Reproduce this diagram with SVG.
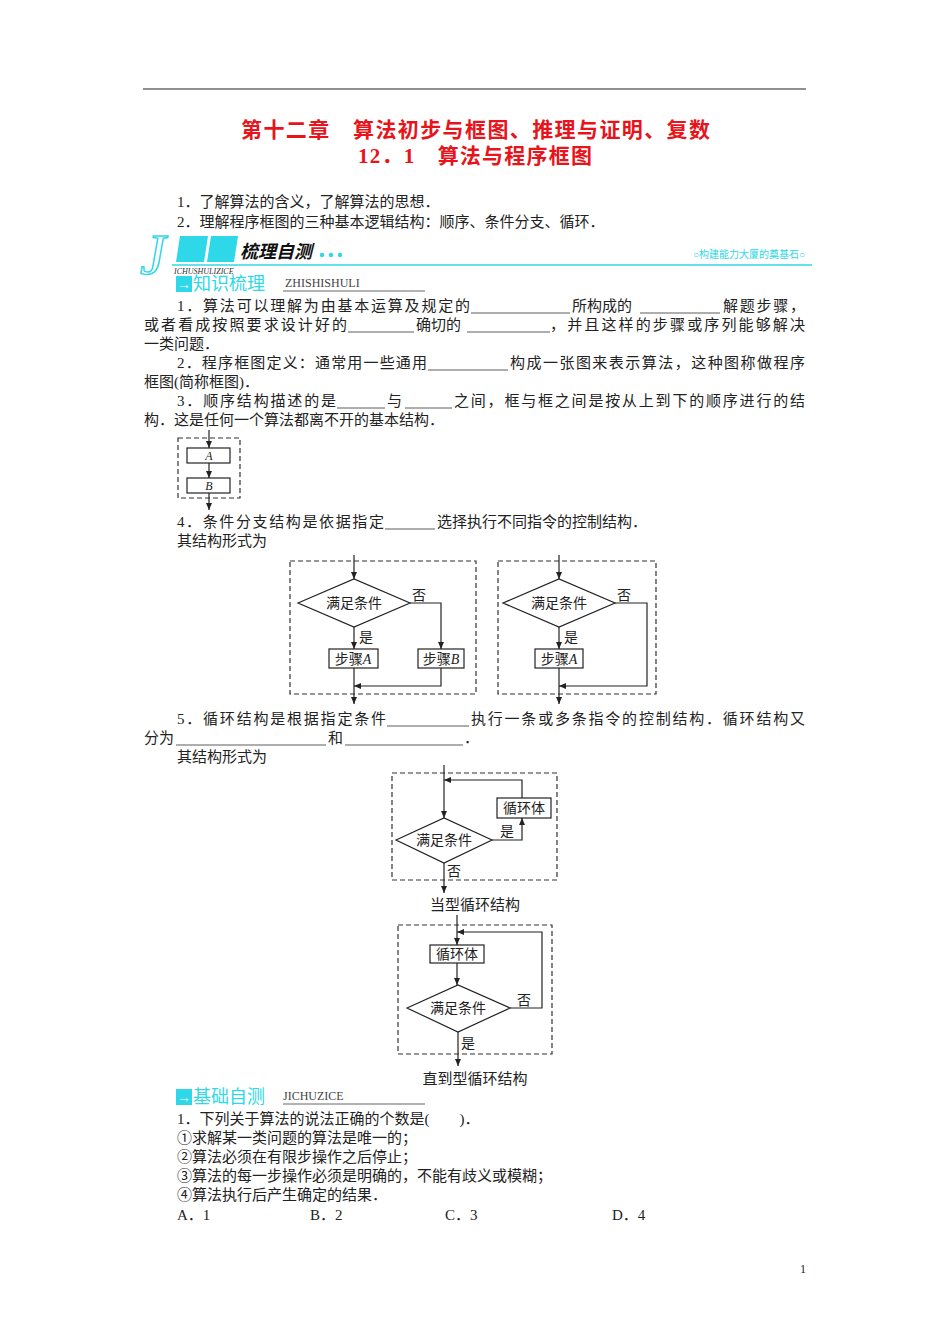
<svg xmlns="http://www.w3.org/2000/svg" width="950" height="1344" viewBox="0 0 950 1344">
<style>
text{font-family:"Liberation Serif","Noto Sans CJK SC",serif;font-size:15px;fill:#222}
.t{font-size:21px;font-weight:bold;fill:#e8141b}
.s{font-size:14px}
.c{text-anchor:middle}
.ln{stroke:#222;stroke-width:1.2;fill:none}
.bl{stroke:#333;stroke-width:0.8}
.dash{stroke:#333;stroke-width:1.2;fill:none;stroke-dasharray:5 3}
.box{stroke:#222;stroke-width:1.2;fill:#fff}
.cy{fill:#2fd8e8}
</style>
<defs><marker id="ar" markerWidth="8" markerHeight="8" refX="7" refY="4" orient="auto" markerUnits="userSpaceOnUse"><path d="M0,1 L7,4 L0,7 Z" fill="#222"/></marker></defs>
<rect width="950" height="1344" fill="#fff"/>
<line x1="143" y1="89" x2="806" y2="89" stroke="#222" stroke-width="1"/>
<text class="t" x="241" y="137" textLength="469">第十二章　算法初步与框图、推理与证明、复数</text>
<text class="t" x="358" y="163" textLength="234">12．1　算法与程序框图</text>
<text x="177" y="207">1．了解算法的含义，了解算法的思想．</text>
<text x="177" y="227">2．理解程序框图的三种基本逻辑结构：顺序、条件分支、循环．</text>
<g id="header1">
<text x="140" y="274" style="font-size:58px;font-style:italic;fill:#fff;stroke:#2fd8e8;stroke-width:1.5">J</text>
<polygon class="cy" points="180,236 208,236 204,262 176,262"/>
<polygon class="cy" points="211,236 238,236 234,262 207,262"/>
<text x="240" y="258" style="font-size:18px;font-weight:bold;font-style:italic;fill:#111">梳理自测</text>
<circle class="cy" cx="322" cy="255" r="2.2"/><circle class="cy" cx="331" cy="255" r="2.2"/><circle class="cy" cx="340" cy="255" r="2.2"/>
<text x="805" y="258" style="font-size:10px;fill:#2fd8e8;text-anchor:end">○构建能力大厦的奠基石○</text>
<line x1="172" y1="265" x2="812" y2="265" stroke="#2fd8e8" stroke-width="1.5"/>
<text x="174" y="274" style="font-size:8px;font-style:italic;fill:#333">ICHUSHULIZICE</text>
<rect class="cy" x="176" y="276" width="16" height="16"/>
<text x="184" y="289" class="c" style="font-size:14px;fill:#fff">→</text>
<text x="193" y="290" style="font-size:18px;fill:#2fd8e8">知识梳理</text>
<text x="285" y="287" style="font-size:12px;fill:#444">ZHISHISHULI</text>
<line x1="283" y1="291" x2="425" y2="291" stroke="#666" stroke-width="1"/>
</g>
<text x="177" y="311" textLength="293">1．算法可以理解为由基本运算及规定的</text><line class="bl" x1="471" y1="313" x2="570" y2="313"/>
<text x="572" y="311">所构成的</text><line class="bl" x1="640" y1="313" x2="720" y2="313"/>
<text x="723" y="311" textLength="82">解题步骤，</text>
<text x="144" y="330" textLength="203">或者看成按照要求设计好的</text><line class="bl" x1="348" y1="332" x2="414" y2="332"/>
<text x="416" y="330">确切的</text><line class="bl" x1="467" y1="332" x2="550" y2="332"/>
<text x="550" y="330" textLength="255">，并且这样的步骤或序列能够解决</text>
<text x="144" y="349">一类问题．</text>
<text x="177" y="368" textLength="250">2．程序框图定义：通常用一些通用</text><line class="bl" x1="428" y1="370" x2="508" y2="370"/>
<text x="510" y="368" textLength="295">构成一张图来表示算法，这种图称做程序</text>
<text x="144" y="387">框图(简称框图)．</text>
<text x="177" y="406" textLength="159">3．顺序结构描述的是</text><line class="bl" x1="337" y1="408" x2="385" y2="408"/>
<text x="387" y="406">与</text><line class="bl" x1="405" y1="408" x2="452" y2="408"/>
<text x="454" y="406" textLength="351">之间，框与框之间是按从上到下的顺序进行的结</text>
<text x="144" y="425">构．这是任何一个算法都离不开的基本结构．</text>
<g id="seq">
<rect class="dash" x="178" y="438" width="62" height="60"/>
<line class="ln" x1="209" y1="430" x2="209" y2="448" marker-end="url(#ar)"/>
<rect class="box" x="187" y="448" width="43" height="15"/>
<text class="c s" x="209" y="460" style="font-style:italic;font-size:12px">A</text>
<line class="ln" x1="209" y1="463" x2="209" y2="478" marker-end="url(#ar)"/>
<rect class="box" x="187" y="478" width="43" height="15"/>
<text class="c s" x="209" y="490" style="font-style:italic;font-size:12px">B</text>
<line class="ln" x1="209" y1="493" x2="209" y2="510" marker-end="url(#ar)"/>
</g>
<text x="177" y="527" textLength="207">4．条件分支结构是依据指定</text><line class="bl" x1="385" y1="529" x2="435" y2="529"/>
<text x="437" y="527">选择执行不同指令的控制结构．</text>
<text x="177" y="546">其结构形式为</text>
<g id="cond1">
<rect class="dash" x="290" y="561" width="186" height="133"/>
<line class="ln" x1="354" y1="555" x2="354" y2="579" marker-end="url(#ar)"/>
<polygon class="box" points="298,603 354,579 410,603 354,627"/>
<text class="c s" x="354" y="608">满足条件</text>
<text x="412" y="600" class="s">否</text>
<polyline class="ln" points="410,603 441,603 441,649" marker-end="url(#ar)"/>
<line class="ln" x1="354" y1="627" x2="354" y2="649" marker-end="url(#ar)"/>
<text x="359" y="642" class="s">是</text>
<rect class="box" x="329" y="649" width="49" height="19"/>
<text class="c s" x="353" y="664">步骤<tspan font-style="italic">A</tspan></text>
<rect class="box" x="418" y="649" width="46" height="19"/>
<text class="c s" x="441" y="664">步骤<tspan font-style="italic">B</tspan></text>
<polyline class="ln" points="441,668 441,686 354,686" marker-end="url(#ar)"/>
<line class="ln" x1="354" y1="668" x2="354" y2="704" marker-end="url(#ar)"/>
</g>
<g id="cond2">
<rect class="dash" x="498" y="561" width="158" height="133"/>
<line class="ln" x1="559" y1="555" x2="559" y2="579" marker-end="url(#ar)"/>
<polygon class="box" points="503,603 559,579 615,603 559,627"/>
<text class="c s" x="559" y="608">满足条件</text>
<text x="617" y="600" class="s">否</text>
<polyline class="ln" points="615,603 647,603 647,686 559,686" marker-end="url(#ar)"/>
<line class="ln" x1="559" y1="627" x2="559" y2="649" marker-end="url(#ar)"/>
<text x="564" y="642" class="s">是</text>
<rect class="box" x="535" y="649" width="48" height="19"/>
<text class="c s" x="559" y="664">步骤<tspan font-style="italic">A</tspan></text>
<line class="ln" x1="559" y1="668" x2="559" y2="704" marker-end="url(#ar)"/>
</g>
<text x="177" y="724" textLength="209">5．循环结构是根据指定条件</text><line class="bl" x1="387" y1="726" x2="469" y2="726"/>
<text x="471" y="724" textLength="334">执行一条或多条指令的控制结构．循环结构又</text>
<text x="144" y="743">分为</text><line class="bl" x1="176" y1="745" x2="326" y2="745"/>
<text x="328" y="743">和</text><line class="bl" x1="345" y1="745" x2="463" y2="745"/>
<text x="464" y="743">．</text>
<text x="177" y="762">其结构形式为</text>
<g id="while">
<rect class="dash" x="392" y="773" width="165" height="107"/>
<line class="ln" x1="444" y1="765" x2="444" y2="818" marker-end="url(#ar)"/>
<polygon class="box" points="396,840 444,818 492,840 444,863"/>
<text class="c s" x="444" y="845">满足条件</text>
<polyline class="ln" points="492,840 522,840 522,818" marker-end="url(#ar)"/>
<text x="500" y="836" class="s">是</text>
<rect class="box" x="497" y="798" width="54" height="20"/>
<text class="c s" x="524" y="813">循环体</text>
<polyline class="ln" points="522,798 522,780 444,780" marker-end="url(#ar)"/>
<line class="ln" x1="444" y1="863" x2="444" y2="893" marker-end="url(#ar)"/>
<text x="447" y="876" class="s">否</text>
</g>
<text class="c" x="475" y="910">当型循环结构</text>
<g id="until">
<rect class="dash" x="398" y="925" width="154" height="129"/>
<line class="ln" x1="457" y1="915" x2="457" y2="945" marker-end="url(#ar)"/>
<rect class="box" x="430" y="945" width="54" height="18"/>
<text class="c s" x="457" y="959">循环体</text>
<line class="ln" x1="457" y1="963" x2="457" y2="985" marker-end="url(#ar)"/>
<polygon class="box" points="407,1008 458,985 510,1008 458,1032"/>
<text class="c s" x="458" y="1013">满足条件</text>
<polyline class="ln" points="510,1008 542,1008 542,932 457,932" marker-end="url(#ar)"/>
<text x="517" y="1005" class="s">否</text>
<line class="ln" x1="458" y1="1032" x2="458" y2="1066" marker-end="url(#ar)"/>
<text x="461" y="1048" class="s">是</text>
</g>
<text class="c" x="475" y="1084">直到型循环结构</text>
<g id="header2">
<rect class="cy" x="176" y="1089" width="16" height="16"/>
<text x="184" y="1102" class="c" style="font-size:14px;fill:#fff">→</text>
<text x="193" y="1103" style="font-size:18px;fill:#2fd8e8">基础自测</text>
<text x="283" y="1100" style="font-size:12px;fill:#444">JICHUZICE</text>
<line x1="283" y1="1104" x2="425" y2="1104" stroke="#666" stroke-width="1"/>
</g>
<text x="177" y="1124">1．下列关于算法的说法正确的个数是(　　)．</text>
<text x="177" y="1143">①求解某一类问题的算法是唯一的；</text>
<text x="177" y="1162">②算法必须在有限步操作之后停止；</text>
<text x="177" y="1181">③算法的每一步操作必须是明确的，不能有歧义或模糊；</text>
<text x="177" y="1200">④算法执行后产生确定的结果．</text>
<text x="177" y="1220">A．1</text><text x="310" y="1220">B．2</text><text x="445" y="1220">C．3</text><text x="612" y="1220">D．4</text>
<text x="800" y="1273" style="font-size:12px">1</text>
</svg>
